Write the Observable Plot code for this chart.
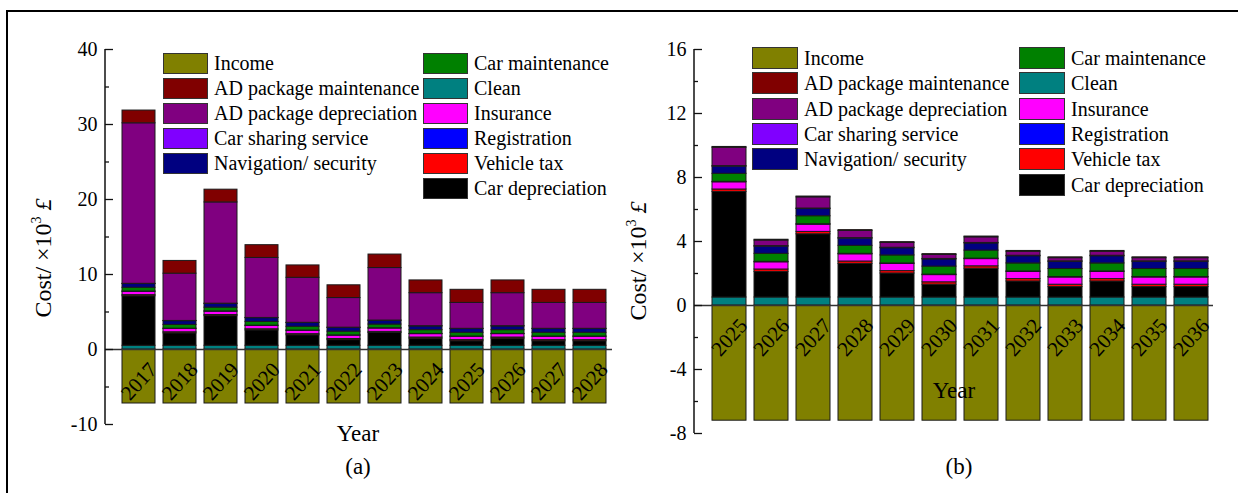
<!DOCTYPE html>
<html><head><meta charset="utf-8">
<script src="https://cdn.jsdelivr.net/npm/d3@7"></script>
<script src="https://cdn.jsdelivr.net/npm/@observablehq/plot@0.6"></script>
<style>
body{margin:0;background:#fff;}
#wrap{position:relative;width:1238px;height:493px;overflow:hidden;font-family:"Liberation Serif","DejaVu Serif",serif;color:#000;}
.border{position:absolute;left:6px;top:10px;right:-4px;bottom:-4px;border-top:2px solid #000;border-left:2px solid #000;}
.lgt{position:absolute;font-family:"Liberation Serif","DejaVu Serif",serif;font-size:20px;white-space:nowrap;}
.sw{position:absolute;border:1.2px solid #333;box-sizing:border-box;}
.lab{position:absolute;font-family:"Liberation Serif","DejaVu Serif",serif;font-size:23px;white-space:nowrap;transform:translate(-50%,-50%);}
.ylab{position:absolute;font-family:"Liberation Serif","DejaVu Serif",serif;font-size:24px;white-space:nowrap;transform:translate(-50%,-50%) rotate(-90deg);}
svg.pl{position:absolute;top:0;}
</style></head>
<body><div id="wrap"><div class="border"></div></div>
<script>
// ---------- Data: panel (a) ----------
const yearsA = ["2017","2018","2019","2020","2021","2022","2023","2024","2025","2026","2027","2028"];
const incomeA        = [-7.2,-7.2,-7.2,-7.2,-7.2,-7.2,-7.2,-7.2,-7.2,-7.2,-7.2,-7.2];
const cleanA         = [0.5,0.5,0.5,0.5,0.5,0.5,0.5,0.5,0.5,0.5,0.5,0.5];
const carDepA        = [6.6,1.65,3.95,2.05,1.4,0.75,1.7,0.95,0.6,0.95,0.6,0.6];
const vehicleTaxA    = [0.15,0.15,0.15,0.15,0.15,0.15,0.15,0.15,0.15,0.15,0.15,0.15];
const insuranceA     = [0.45,0.45,0.45,0.45,0.45,0.45,0.45,0.45,0.45,0.45,0.45,0.45];
const registrationA  = [0.03,0.03,0.03,0.03,0.03,0.03,0.03,0.03,0.03,0.03,0.03,0.03];
const carMaintA      = [0.5,0.5,0.5,0.5,0.5,0.5,0.5,0.5,0.5,0.5,0.5,0.5];
const navA           = [0.5,0.5,0.5,0.5,0.5,0.5,0.5,0.5,0.5,0.5,0.5,0.5];
const sharingA       = [0.03,0.03,0.03,0.03,0.03,0.03,0.03,0.03,0.03,0.03,0.03,0.03];
const adDepA         = [21.4,6.3,13.5,8.0,6.0,3.95,7.0,4.4,3.45,4.4,3.45,3.45];
const adMaintA       = [1.7,1.7,1.7,1.7,1.65,1.7,1.8,1.7,1.75,1.7,1.75,1.75];

// ---------- Data: panel (b) ----------
const yearsB = ["2025","2026","2027","2028","2029","2030","2031","2032","2033","2034","2035","2036"];
const incomeB        = [-7.2,-7.2,-7.2,-7.2,-7.2,-7.2,-7.2,-7.2,-7.2,-7.2,-7.2,-7.2];
const cleanB         = [0.5,0.5,0.5,0.5,0.5,0.5,0.5,0.5,0.5,0.5,0.5,0.5];
const carDepB        = [6.6,1.6,3.95,2.1,1.5,0.8,1.8,1.0,0.65,1.0,0.65,0.65];
const vehicleTaxB    = [0.15,0.15,0.15,0.15,0.15,0.15,0.15,0.15,0.15,0.15,0.15,0.15];
const insuranceB     = [0.45,0.45,0.45,0.45,0.45,0.45,0.45,0.45,0.45,0.45,0.45,0.45];
const registrationB  = [0.03,0.03,0.03,0.03,0.03,0.03,0.03,0.03,0.03,0.03,0.03,0.03];
const carMaintB      = [0.5,0.5,0.5,0.5,0.5,0.5,0.5,0.5,0.5,0.5,0.5,0.5];
const navB           = [0.45,0.45,0.45,0.45,0.45,0.45,0.45,0.45,0.45,0.45,0.45,0.45];
const sharingB       = [0.03,0.03,0.03,0.03,0.03,0.03,0.03,0.03,0.03,0.03,0.03,0.03];
const adDepB         = [1.15,0.35,0.7,0.45,0.3,0.25,0.35,0.25,0.2,0.25,0.2,0.2];
const adMaintB       = [0.05,0.05,0.05,0.05,0.05,0.05,0.05,0.05,0.05,0.05,0.05,0.05];

// ---------- Series / colours / legend / ticks ----------
const seriesOrder = ["Clean","Car depreciation","Vehicle tax","Insurance","Registration","Car maintenance","Navigation/ security","Car sharing service","AD package depreciation","AD package maintenance","Income"];
const seriesColors = ["#008080","#000000","#ff0000","#ff00ff","#0000ff","#008000","#000080","#8000ff","#800080","#800000","#808000"];
const legendCol1 = ["Income","AD package maintenance","AD package depreciation","Car sharing service","Navigation/ security"];
const legendCol2 = ["Car maintenance","Clean","Insurance","Registration","Vehicle tax","Car depreciation"];
const majorA = [-10,0,10,20,30,40], minorA = [-5,5,15,25,35];
const majorB = [-8,-4,0,4,8,12,16], minorB = [-6,-2,2,6,10,14];

const wrap = document.getElementById("wrap");
const colorOf = Object.fromEntries(seriesOrder.map((s,i)=>[s, seriesColors[i]]));
const FONT = "Liberation Serif, DejaVu Serif, serif";

function tidy(years, series) {
  const rows = [];
  for (const [name, vals] of series) vals.forEach((v,i)=>rows.push({year: years[i], series: name, value: v}));
  return rows;
}

function panel(cfg) {
  const rows = tidy(cfg.years, cfg.series);
  const fmt = d => d < 0 ? "-" + Math.abs(d) : String(d);
  const plot = Plot.plot({
    width: cfg.width, height: 493,
    marginLeft: cfg.ml, marginRight: cfg.mr, marginTop: 49, marginBottom: cfg.mb,
    style: {fontFamily: FONT, fontSize: "20px", background: "transparent", overflow: "visible", color: "#000"},
    x: {domain: cfg.years, paddingInner: cfg.pi, paddingOuter: cfg.po, align: 0.76, axis: null},
    y: {domain: cfg.yDomain, axis: null, label: null},
    color: {domain: seriesOrder, range: seriesColors},
    marks: [
      Plot.barY(rows, {x: "year", y: "value", fill: "series", stroke: "#1a1a1a", strokeWidth: 1, order: seriesOrder}),
      Plot.ruleY([0], {stroke: "#333", strokeWidth: 1.6}),
      Plot.axisY({ticks: cfg.major, tickSize: -8, tickPadding: 16, fontSize: 20, fontFamily: FONT, tickFormat: fmt, label: null, stroke: "#111", strokeWidth: 1.3}),
      Plot.axisY({ticks: cfg.minor, tickSize: -4, tickFormat: () => "", label: null, stroke: "#111", strokeWidth: 1.3}),
      Plot.text(cfg.years, {x: d => d, y: () => 0, dy: 32, rotate: -48, fontSize: 21, fontFamily: FONT, fill: "#000"})
    ]
  });
  plot.classList.add("pl");
  plot.style.left = cfg.left + "px";
  const y = plot.scale("y");
  d3.select(plot).append("line")
    .attr("x1", cfg.ml).attr("x2", cfg.ml)
    .attr("y1", y.apply(cfg.yDomain[1])).attr("y2", y.apply(cfg.yDomain[0]))
    .attr("stroke", "#111").attr("stroke-width", 1.5);
  wrap.appendChild(plot);

  // legend (HTML overlay)
  const lg = cfg.legend;
  [[legendCol1, lg.c1], [legendCol2, lg.c2]].forEach(([names, cx]) => {
    names.forEach((n, i) => {
      const top = lg.top + i * lg.step;
      const sw = document.createElement("div");
      sw.className = "sw";
      Object.assign(sw.style, {left: cx + "px", top: top + "px", width: lg.w + "px", height: lg.h + "px", background: colorOf[n]});
      wrap.appendChild(sw);
      const t = document.createElement("div");
      t.className = "lgt";
      t.textContent = n;
      Object.assign(t.style, {left: (cx + lg.w + lg.gap) + "px", top: top + "px", height: lg.h + "px", lineHeight: lg.h + "px"});
      wrap.appendChild(t);
    });
  });
  // labels
  const yl = document.createElement("div");
  yl.className = "ylab";
  yl.innerHTML = 'Cost/ ×10<sup style="font-size:14px;vertical-align:10px;line-height:0">3</sup> <i>£</i>';
  Object.assign(yl.style, {left: cfg.ylab[0] + "px", top: cfg.ylab[1] + "px"});
  wrap.appendChild(yl);
  const xl = document.createElement("div");
  xl.className = "lab"; xl.textContent = "Year";
  Object.assign(xl.style, {left: cfg.xlab[0] + "px", top: cfg.xlab[1] + "px"});
  wrap.appendChild(xl);
  const pl = document.createElement("div");
  pl.className = "lab"; pl.textContent = cfg.tag;
  Object.assign(pl.style, {left: cfg.tagPos[0] + "px", top: cfg.tagPos[1] + "px"});
  wrap.appendChild(pl);
}

panel({
  years: yearsA, left: 0, width: 620, ml: 105, mr: 8, mb: 69, pi: 0.187, po: 0.246,
  yDomain: [-10, 40], major: majorA, minor: minorA,
  series: [["Income", incomeA],["Clean", cleanA],["Car depreciation", carDepA],["Vehicle tax", vehicleTaxA],["Insurance", insuranceA],["Registration", registrationA],["Car maintenance", carMaintA],["Navigation/ security", navA],["Car sharing service", sharingA],["AD package depreciation", adDepA],["AD package maintenance", adMaintA]],
  legend: {c1: 163, c2: 423, top: 53, step: 25, w: 45, h: 21, gap: 6},
  ylab: [43, 258], xlab: [358, 434], tag: "(a)", tagPos: [358, 467]
});
panel({
  years: yearsB, left: 620, width: 618, ml: 74, mr: 25, mb: 60, pi: 0.2, po: 0.25,
  yDomain: [-8, 16], major: majorB, minor: minorB,
  series: [["Income", incomeB],["Clean", cleanB],["Car depreciation", carDepB],["Vehicle tax", vehicleTaxB],["Insurance", insuranceB],["Registration", registrationB],["Car maintenance", carMaintB],["Navigation/ security", navB],["Car sharing service", sharingB],["AD package depreciation", adDepB],["AD package maintenance", adMaintB]],
  legend: {c1: 752, c2: 1019, top: 47, step: 25.3, w: 46, h: 22, gap: 6},
  ylab: [638, 261], xlab: [954, 391], tag: "(b)", tagPos: [959, 467]
});
</script>
</body></html>
